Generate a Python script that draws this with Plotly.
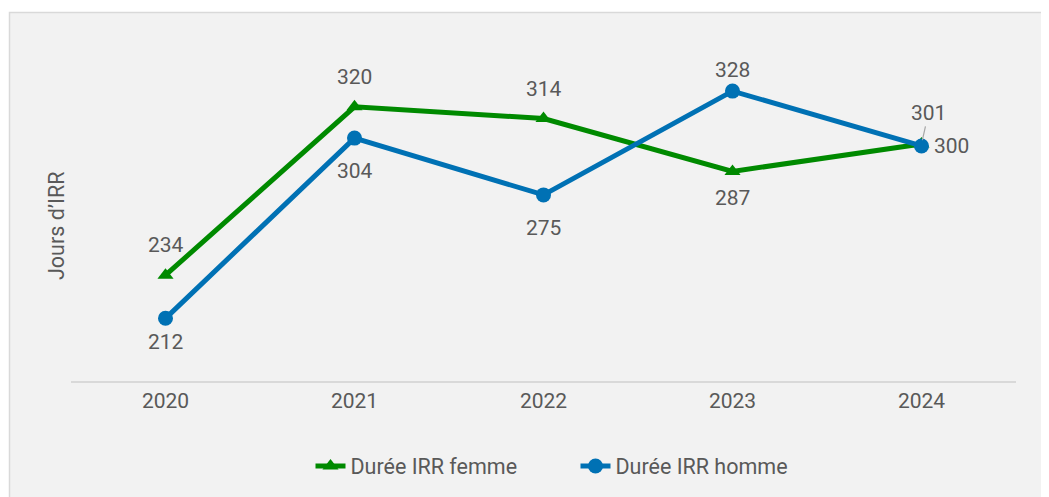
import plotly.graph_objects as go

years = ["2020", "2021", "2022", "2023", "2024"]
femme = [234, 320, 314, 287, 301]
homme = [212, 304, 275, 328, 300]
femme_name = "Durée IRR femme"
homme_name = "Durée IRR homme"
y_title = "Jours d’IRR"

GREEN = "#008a00"
BLUE = "#0071b4"
TXT = "#595959"
FONT = "Roboto"

# label placements (style only)
femme_shift = [(0, 30), (0, 30), (0, 30), (0, -27), (7, 31)]
homme_shift = [(0, -24), (0, -33), (0, -33), (0, 21), (30, 0)]

fig = go.Figure()
fig.add_trace(go.Scatter(
    x=years, y=femme, name=femme_name, mode="lines+markers",
    line=dict(color=GREEN, width=5),
    marker=dict(symbol="triangle-up", size=14, color=GREEN),
))
fig.add_trace(go.Scatter(
    x=years, y=homme, name=homme_name, mode="lines+markers",
    line=dict(color=BLUE, width=5),
    marker=dict(symbol="circle", size=15, color=BLUE),
))

LBL = dict(size=21, color=TXT, family=FONT)
annotations = []
for i, v in enumerate(femme):
    dx, dy = femme_shift[i]
    if i == 4:
        annotations.append(dict(x=i, y=v, text=str(v), showarrow=True,
                                ax=dx, ay=-dy, arrowhead=0, arrowwidth=1.2,
                                arrowcolor="#a6a6a6", standoff=4, font=LBL))
    else:
        annotations.append(dict(x=i, y=v, text=str(v), showarrow=False,
                                xshift=dx, yshift=dy, font=LBL))
for i, v in enumerate(homme):
    dx, dy = homme_shift[i]
    annotations.append(dict(x=i, y=v, text=str(v), showarrow=False,
                            xshift=dx, yshift=dy, font=LBL))

# page has an 8px body margin: coordinates below are figure pixels
ml, mr, mt, mb = 63, 41, 40, 124
W, H = 1049, 497
pw, ph = W - ml - mr, H - mt - mb

def px2paper_x(px):
    return (px - ml) / pw

def px2paper_y(py):
    return (H - mb - py) / ph

# y-axis title as annotation (slightly below plot centre, as in reference)
annotations.append(dict(xref="paper", yref="paper",
                        x=px2paper_x(49), y=px2paper_y(218),
                        text=y_title, textangle=-90, showarrow=False,
                        xanchor="center", yanchor="middle",
                        font=dict(size=21.5, color=TXT, family=FONT)))

fig.add_shape(type="rect", xref="paper", yref="paper",
              x0=px2paper_x(1.5), x1=px2paper_x(1070),
              y0=px2paper_y(530), y1=px2paper_y(4.5),
              fillcolor="#f2f2f2", line=dict(color="#d9d9d9", width=1.5),
              layer="below")

fig.update_layout(
    width=W, height=H,
    margin=dict(l=ml, r=mr, t=mt, b=mb),
    paper_bgcolor="white",
    plot_bgcolor="rgba(0,0,0,0)",
    font=dict(family=FONT, size=21, color=TXT),
    annotations=annotations,
    showlegend=True,
    legend=dict(orientation="h", x=0.5 + 32 / pw, xanchor="center",
                y=px2paper_y(458), yanchor="middle",
                entrywidth=220,
                font=dict(size=21.5, color=TXT, family=FONT),
                bgcolor="rgba(0,0,0,0)"),
    xaxis=dict(type="category", range=[-0.5, 4.5], showgrid=False,
               showline=True, linecolor="#d9d9d9", linewidth=2,
               ticks="", zeroline=False,
               tickfont=dict(size=21, color=TXT, family=FONT)),
    yaxis=dict(range=[180, 350], showgrid=False, showticklabels=False,
               zeroline=False, showline=False, ticks=""),
)

fig.write_html("out.html")
